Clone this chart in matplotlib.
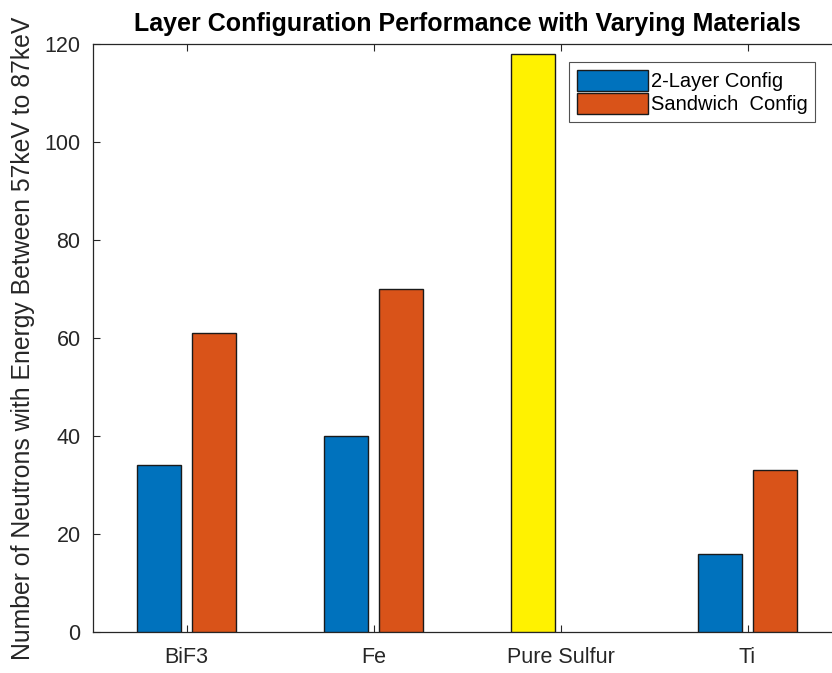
import numpy as np
import matplotlib
matplotlib.use('Agg')
import matplotlib.pyplot as plt
from matplotlib.patches import Patch

materials = ['BiF3', 'Fe', 'Pure Sulfur', 'Ti']
two_layer = [34, 40, 118, 16]
sandwich = [61, 70, 0, 33]
series_names = ['2-Layer Config', 'Sandwich  Config']

blue = '#0072BD'
orange = '#D95319'
yellow = '#FFF200'
dark = '#262626'

plt.rcParams['font.family'] = ['Liberation Sans', 'DejaVu Sans']

fig = plt.figure(figsize=(8.32, 6.73), dpi=100)
ax = fig.add_axes([93/832, 1-632/673, 748/832, 588/673])

x = np.arange(1, len(materials)+1)
wide = 0.235
off = 0.145
cols = [blue]*len(materials)
cols[2] = yellow  # the sulfur bar was recoloured
ax.bar(x-off, two_layer, wide, color=cols, edgecolor='#1a1a1a', linewidth=1.0, zorder=3)
bars = ax.bar(x+off, sandwich, wide, color=orange, edgecolor='#1a1a1a', linewidth=1.0, zorder=3)
for b, v in zip(bars, sandwich):
    if v == 0:
        b.set_edgecolor('none')

ax.set_xlim(0.5, 4.5)
ax.set_ylim(0, 120)
ax.set_xticks(x)
ax.set_xticklabels(materials)
ax.set_yticks(np.arange(0, 121, 20))
ax.tick_params(direction='in', length=5, width=0.8, colors=dark, labelsize=15.5,
               top=True, right=True)
ax.tick_params(axis='x', pad=11)
ax.tick_params(axis='y', pad=9)
for s in ax.spines.values():
    s.set_color(dark)
    s.set_linewidth(0.9)

ax.set_ylabel('Number of Neutrons with Energy Between 57keV to 87keV', fontsize=17.8, color=dark)
ax.yaxis.set_label_coords(-0.077, 0.50)
ax.set_title('Layer Configuration Performance with Varying Materials', fontsize=18,
             fontweight='bold', pad=9, x=(467-93)/748)

handles = [Patch(facecolor=blue, edgecolor='#1a1a1a'), Patch(facecolor=orange, edgecolor='#1a1a1a')]
leg = ax.legend(handles, series_names, loc='upper left', bbox_to_anchor=(569/832, 1-62/673),
                bbox_transform=fig.transFigure, fontsize=14.5, frameon=True, fancybox=False,
                handlelength=3.5, handleheight=1.2, handletextpad=0.15, borderpad=0.4,
                labelspacing=0.1, borderaxespad=0)
leg.get_frame().set_edgecolor(dark)
leg.get_frame().set_linewidth(0.8)

fig.savefig('out.png', dpi=100)
